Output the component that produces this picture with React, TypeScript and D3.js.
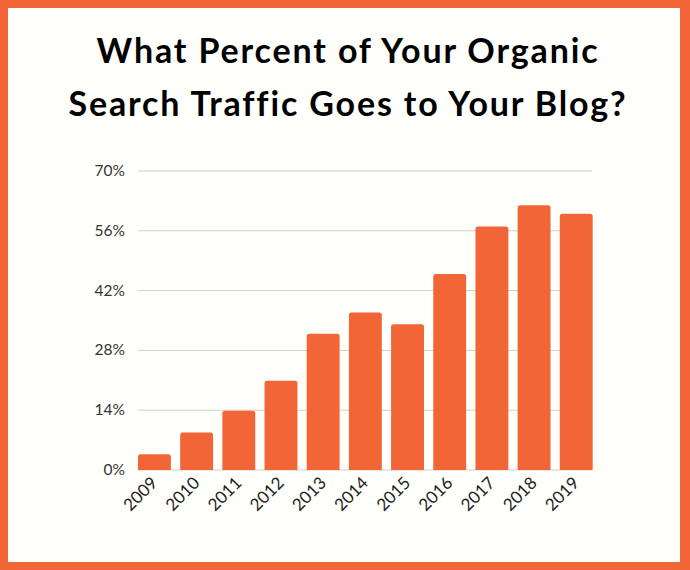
import React from "react";
import * as d3 from "d3";

const years = ["2009","2010","2011","2012","2013","2014","2015","2016","2017","2018","2019"];
const values = [3.7, 8.8, 13.9, 20.9, 31.9, 36.9, 34.1, 45.9, 57, 62, 60];
const yTicks = [0, 14, 28, 42, 56, 70];
const titleLines = ["What Percent of Your Organic", "Search Traffic Goes to Your Blog?"];

const W = 690, H = 570;
const orange = "#F26536";

export default function App() {
  const x = d3.scaleBand<string>().domain(years).range([138, 592.7]).paddingInner(0.22).paddingOuter(0);
  const y = d3.scaleLinear().domain([0, 70]).range([470, 171]);
  const r = 2.5;
  return (
    <svg width={W} height={H} style={{ position: "absolute", left: 0, top: 0 }}>
      <rect x={0} y={0} width={W} height={H} fill={orange} />
      <rect x={8} y={8} width={672} height={554} fill="#FFFFFB" />
      {titleLines.map((t, i) => (
        <text key={i} x={348} y={63 + i * 53} textAnchor="middle" fontFamily="Lato, sans-serif" fontWeight={700} fontSize={34} letterSpacing={1.85} fill="#000">{t}</text>
      ))}
      {yTicks.map(t => (
        <g key={t}>
          <line x1={138} x2={592} y1={y(t)} y2={y(t)} stroke="#cfcfcf" strokeWidth={1} />
          <text x={125} y={y(t) + 5} textAnchor="end" fontFamily="Lato, sans-serif" fontSize={15.5} fill="#333">{t}%</text>
        </g>
      ))}
      {years.map((yr, i) => {
        const x0 = x(yr)!, w = x.bandwidth(), y0 = y(values[i]), y1 = y(0);
        const p = `M${x0},${y1} L${x0},${y0 + r} Q${x0},${y0} ${x0 + r},${y0} L${x0 + w - r},${y0} Q${x0 + w},${y0} ${x0 + w},${y0 + r} L${x0 + w},${y1} Z`;
        return <path key={yr} d={p} fill={orange} />;
      })}
      {years.map(yr => {
        const cx = x(yr)! + x.bandwidth() / 2 + 4;
        return (
          <text key={yr} transform={`translate(${cx},${484}) rotate(-45)`} textAnchor="end" fontFamily="Lato, sans-serif" fontSize={17} fill="#222">{yr}</text>
        );
      })}
    </svg>
  );
}
